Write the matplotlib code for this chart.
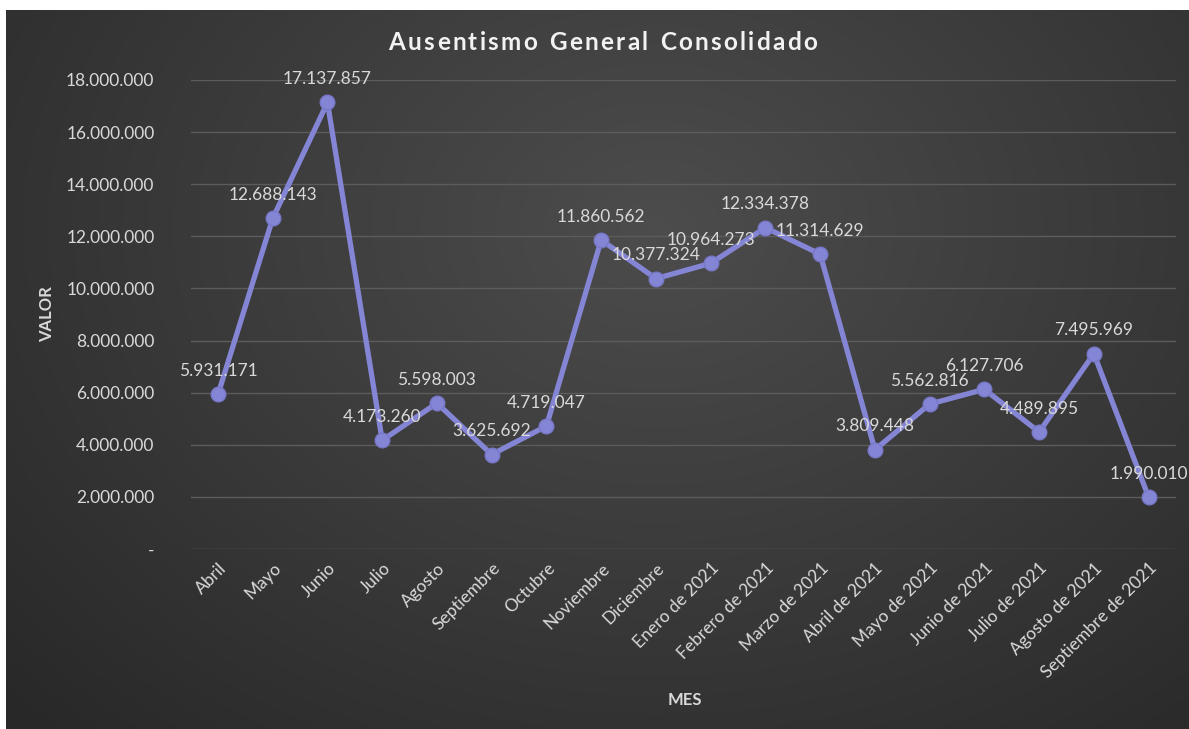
import numpy as np
import matplotlib
matplotlib.use('Agg')
import matplotlib.pyplot as plt
from matplotlib.ticker import FuncFormatter, MultipleLocator

meses = ['Abril', 'Mayo', 'Junio', 'Julio', 'Agosto', 'Septiembre', 'Octubre',
         'Noviembre', 'Diciembre', 'Enero de 2021', 'Febrero de 2021',
         'Marzo de 2021', 'Abril de 2021', 'Mayo de 2021', 'Junio de 2021',
         'Julio de 2021', 'Agosto de 2021', 'Septiembre de 2021']
valores = [5931171, 12688143, 17137857, 4173260, 5598003, 3625692, 4719047,
           11860562, 10377324, 10964273, 12334378, 11314629, 3809448,
           5562816, 6127706, 4489895, 7495969, 1990010]

FONT = 'Lato'
TXT = '#d9d9d9'
LINE = '#8585d6'
W, H = 1189, 729


def miles(v, pos=None):
    if v == 0:
        return '-'
    return f'{int(round(v)):,}'.replace(',', '.')


def _draw_background(fig):
    # dark radial gradient panel, white margin on top and left
    bg = fig.add_axes([6 / W, 0, 1 - 6 / W, (H - 10) / H], zorder=-10)
    h, w = 400, 650
    yy, xx = np.mgrid[0:h, 0:w]
    cx, cy = 0.55 * w, 0.30 * h
    r = np.sqrt(((xx - cx) / (0.75 * w)) ** 2 + ((yy - cy) / (0.95 * h)) ** 2)
    r = np.clip(r, 0, 1)
    val = 0.30 - 0.14 * r
    img = np.dstack([val, val, val])
    bg.imshow(img, aspect='auto', extent=[0, 1, 0, 1], origin='upper')
    bg.set_axis_off()


def _spaced_title(fig, text, xc, yc, spacing, **kw):
    # draw the title letter by letter to get the wide tracking of the original
    r = fig.canvas.get_renderer()
    widths = []
    for ch in text:
        t = fig.text(0, 0, ch if ch != ' ' else 'n', **kw)
        widths.append(t.get_window_extent(r).width * (0.55 if ch == ' ' else 1))
        t.remove()
    total = sum(widths) + spacing * (len(text) - 1)
    x = xc - total / 2
    for ch, wd in zip(text, widths):
        if ch != ' ':
            fig.text(x / W, 1 - yc / H, ch, ha='left', va='center', **kw)
        x += wd + spacing


def main():
    fig = plt.figure(figsize=(W / 100, H / 100), dpi=100, facecolor='white')
    _draw_background(fig)

    ax = fig.add_axes([190.6 / W, 180 / H, 985.4 / W, 469 / H])
    ax.patch.set_alpha(0)
    x = np.arange(len(meses))
    ax.plot(x, valores, color=LINE, lw=3.8, marker='o', ms=10.5,
            markerfacecolor=LINE, markeredgecolor='#7878c8', zorder=3,
            solid_joinstyle='round')

    for xi, v in zip(x, valores):
        ax.annotate(miles(v), (xi, v), xytext=(0, 11), textcoords='offset points',
                    ha='center', va='bottom', color=TXT, fontsize=12.5,
                    family=FONT, annotation_clip=False, clip_on=False)

    ax.set_xlim(-0.5, len(meses) - 0.5)
    ax.set_ylim(0, 18000000)
    ax.yaxis.set_major_locator(MultipleLocator(2000000))
    ax.yaxis.set_major_formatter(FuncFormatter(miles))
    ax.grid(axis='y', color='#5c5c5c', lw=1)
    ax.set_axisbelow(True)
    for s in ax.spines.values():
        s.set_visible(False)

    ax.set_xticks(x)
    ax.set_xticklabels(meses, rotation=45, ha='right', rotation_mode='anchor')
    ax.tick_params(length=0, colors=TXT, labelsize=12.5, pad=8)
    ax.tick_params(axis='y', pad=26)
    for lab in ax.get_xticklabels() + ax.get_yticklabels():
        lab.set_family(FONT)

    ax.set_ylabel('VALOR', color=TXT, fontsize=12, fontweight='bold', family=FONT)
    ax.yaxis.set_label_coords(-0.1376, 0.5)
    fig.text(685 / W, 1 - 700 / H, 'MES', color=TXT, fontsize=12,
             fontweight='bold', family=FONT, ha='center', va='center')
    _spaced_title(fig, 'Ausentismo General Consolidado', 603, 42, 2.3,
                  color='#f2f2f2', fontsize=17.5, fontweight='bold', family=FONT)

    fig.savefig('out.png', dpi=100, facecolor='white')


main()
